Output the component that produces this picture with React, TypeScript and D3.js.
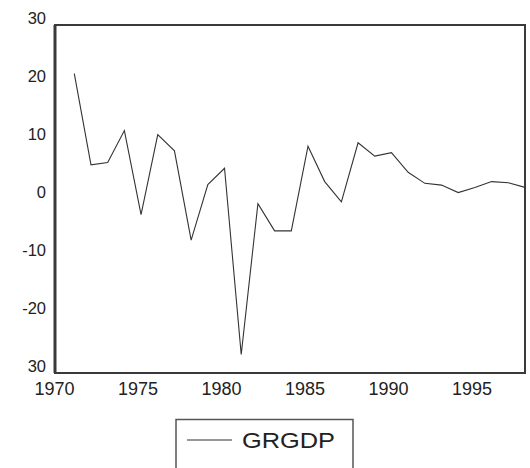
import React from "react";
import * as d3 from "d3";

const years = [1971, 1972, 1973, 1974, 1975, 1976, 1977, 1978, 1979, 1980, 1981, 1982, 1983, 1984, 1985, 1986, 1987, 1988, 1989, 1990, 1991, 1992, 1993, 1994, 1995, 1996, 1997, 1998];
const grgdp = [21.6, 5.9, 6.3, 11.8, -2.7, 11.1, 8.3, -7.1, 2.5, 5.3, -26.8, -0.8, -5.5, -5.5, 9.1, 3.0, -0.5, 9.7, 7.4, 8.0, 4.6, 2.7, 2.4, 1.1, 2.0, 3.0, 2.8, 2.0];
const xTicks = [1970, 1975, 1980, 1985, 1990, 1995];
const yTicks = [30, 20, 10, 0, -10, -20, -30];
const yTickLabels = ["30", "20", "10", "0", "-10", "-20", "30"];
const seriesName = "GRGDP";

export default function App() {
  const W = 530, H = 468;
  const left = 55, right = 525, top = 25, bottom = 373;
  const x = d3.scaleLinear().domain([1970, 1998]).range([57.6, right]);
  const y = d3.scaleLinear().domain([-30, 30]).range([bottom, top]);
  const line = d3.line<number>().x((_, i) => x(years[i])).y((d) => y(d));
  const font = "'Liberation Sans', Arial, Helvetica, sans-serif";
  return (
    <svg width={W} height={H} style={{ position: "absolute", left: 0, top: 0, background: "#fff" }} fontFamily={font}>
      <rect x={0} y={0} width={W} height={H} fill="#fff" />
      <path d={line(grgdp) || ""} fill="none" stroke="#333" strokeWidth={1.1} />
      <rect x={left} y={top} width={right - left} height={bottom - top} fill="none" stroke="#3a3a3a" strokeWidth={2} />
      <line x1={left} x2={left} y1={top} y2={bottom} stroke="#3a3a3a" strokeWidth={3} />
      {yTicks.map((t, i) => (
        <text key={t} x={46} y={y(t) - 7.5} textAnchor="end" dominantBaseline="central" fontSize={16.5} fill="#222">
          {yTickLabels[i]}
        </text>
      ))}
      {xTicks.map((t) => (
        <text key={t} x={x(t) - 3} y={395} textAnchor="middle" fontSize={18} fill="#222">
          {t}
        </text>
      ))}
      <rect x={176} y={419.5} width={177} height={60} fill="none" stroke="#555" strokeWidth={1.5} />
      <line x1={187} x2={232} y1={440} y2={440} stroke="#333" strokeWidth={1.2} />
      <text x={242} y={448} fontSize={22.5} fill="#222" textLength={93} lengthAdjust="spacingAndGlyphs">
        {seriesName}
      </text>
    </svg>
  );
}
